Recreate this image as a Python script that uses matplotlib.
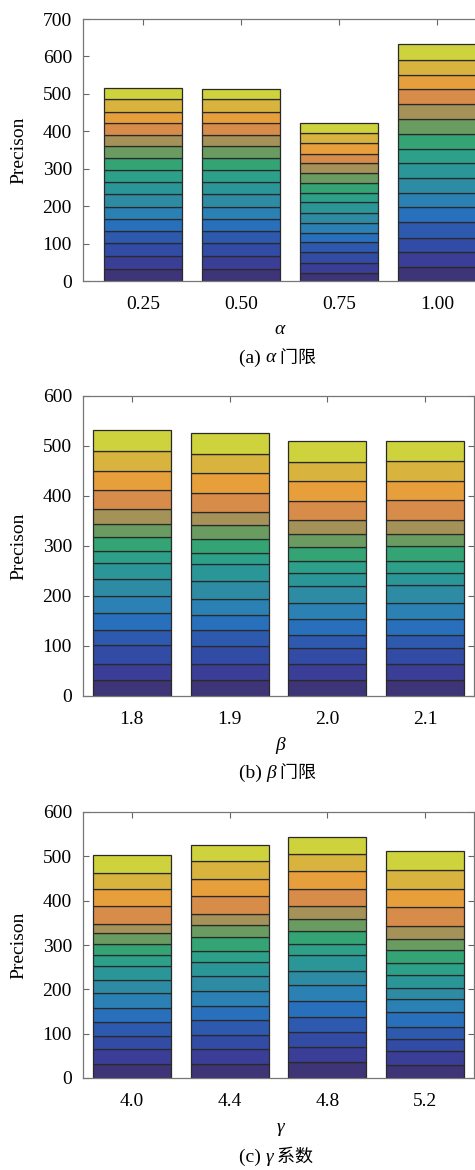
import matplotlib
matplotlib.use('Agg')
import matplotlib.pyplot as plt
import numpy as np

# x categories
alpha_labels = ['0.25', '0.50', '0.75', '1.00']
beta_labels = ['1.8', '1.9', '2.0', '2.1']
gamma_labels = ['4.0', '4.4', '4.8', '5.2']

# stacked segment heights, bottom to top, one row per bar
alpha_segs = [
    [32, 34, 35, 33, 32, 32, 34, 33, 31, 33, 33, 28, 31, 31, 35, 28],
    [32, 34, 35, 33, 32, 32, 34, 33, 31, 33, 33, 28, 31, 31, 35, 27],
    [22, 26, 29, 26, 24, 29, 27, 28, 25, 26, 27, 26, 24, 29, 27, 28],
    [38, 39, 38, 42, 40, 39, 38, 40, 39, 39, 41, 40, 39, 38, 40, 43],
]
beta_segs = [
    [33, 32, 37, 31, 34, 33, 35, 32, 24, 28, 26, 29, 38, 39, 39, 42],
    [32, 32, 36, 32, 31, 32, 36, 33, 23, 28, 27, 27, 38, 40, 38, 42],
    [32, 32, 33, 26, 31, 33, 34, 26, 23, 29, 26, 28, 37, 40, 39, 42],
    [32, 32, 33, 26, 32, 32, 35, 25, 23, 30, 25, 28, 39, 39, 39, 41],
]
gamma_segs = [
    [32, 33, 29, 32, 33, 33, 30, 30, 25, 25, 24, 22, 39, 39, 36, 40],
    [32, 33, 31, 34, 33, 34, 32, 32, 26, 30, 27, 27, 39, 40, 39, 37],
    [35, 34, 35, 33, 37, 35, 32, 36, 25, 30, 27, 28, 40, 39, 39, 39],
    [30, 32, 26, 27, 33, 31, 24, 29, 27, 29, 26, 28, 43, 42, 43, 43],
]

# layer colours, bottom to top
layer_colors = ['#3e3478', '#3a3e96', '#324ba5', '#2d5aaf', '#2870bc', '#2b80b4',
                '#2d8ca4', '#2b9698', '#2ca088', '#34a474', '#4ea266',
                '#a49258', '#d78c4a', '#e79f3c', '#d8b43e', '#ced23c']
layer_colors[10] = '#6a9c62'

W, H = 475, 1170
fig = plt.figure(figsize=(W / 100, H / 100), dpi=100)
serif = ['Liberation Serif', 'DejaVu Serif']
cjk = ['Noto Sans CJK SC']
fs = 14


def px_axes(left, top, right, bottom):
    return fig.add_axes([left / W, 1 - bottom / H, (right - left) / W, (bottom - top) / H])


def draw(ax, segs, labels, ymax, xlim):
    segs = np.array(segs, dtype=float)
    x = np.arange(1, len(labels) + 1)
    bottom = np.zeros(len(labels))
    for j in range(segs.shape[1]):
        ax.bar(x, segs[:, j], bottom=bottom, width=0.8, color=layer_colors[j],
               edgecolor='#2a2a2a', linewidth=0.9, zorder=2)
        bottom += segs[:, j]
    ax.set_xlim(*xlim)
    ax.set_ylim(0, ymax)
    ax.set_xticks(x)
    ax.set_xticklabels(labels)
    ax.set_yticks(np.arange(0, ymax + 1, 100))
    ax.tick_params(direction='in', length=4, width=0.8, color='#666666',
                   top=True, right=True, labelsize=fs)
    ax.tick_params(axis='x', pad=11)
    ax.tick_params(axis='y', pad=8)
    for lab in ax.get_xticklabels() + ax.get_yticklabels():
        lab.set_family(serif)
    for s in ax.spines.values():
        s.set_color('#777777')
        s.set_linewidth(0.9)
    ax.set_ylabel('Precison', family=serif, fontsize=fs)
    ax.yaxis.set_label_coords(-(83 - 27) / (ax.get_position().width * W), 0.5)


def caption(ax, letter, sym, word, y_lab, y_cap):
    fig.text(280 / W, 1 - y_lab / H, sym, ha='center', va='center',
             family=serif, style='italic', fontsize=fs)
    t1 = fig.text(239 / W, 1 - y_cap / H, '(' + letter + ') ', ha='left', va='center',
                  family=serif, fontsize=fs)
    t2 = ax.annotate(sym, xy=(1, 0.5), xycoords=t1, ha='left', va='center',
                     family=serif, style='italic', fontsize=fs,
                     annotation_clip=False)
    ax.annotate(' ' + word, xy=(1, 0.5), xycoords=t2, ha='left', va='center',
                family=cjk, fontsize=fs - 1, annotation_clip=False)


ax1 = px_axes(83, 19, 496, 281)
draw(ax1, alpha_segs, alpha_labels, 700, (0.388, 4.6))
caption(ax1, 'a', 'α', '门限', 330, 358)

ax2 = px_axes(83, 396, 474, 696)
draw(ax2, beta_segs, beta_labels, 600, (0.5, 4.5))
caption(ax2, 'b', 'β', '门限', 745, 773)

ax3 = px_axes(83, 812, 474, 1078)
draw(ax3, gamma_segs, gamma_labels, 600, (0.5, 4.5))
caption(ax3, 'c', 'γ', '系数', 1128, 1157)

fig.savefig('out.png', dpi=100)
